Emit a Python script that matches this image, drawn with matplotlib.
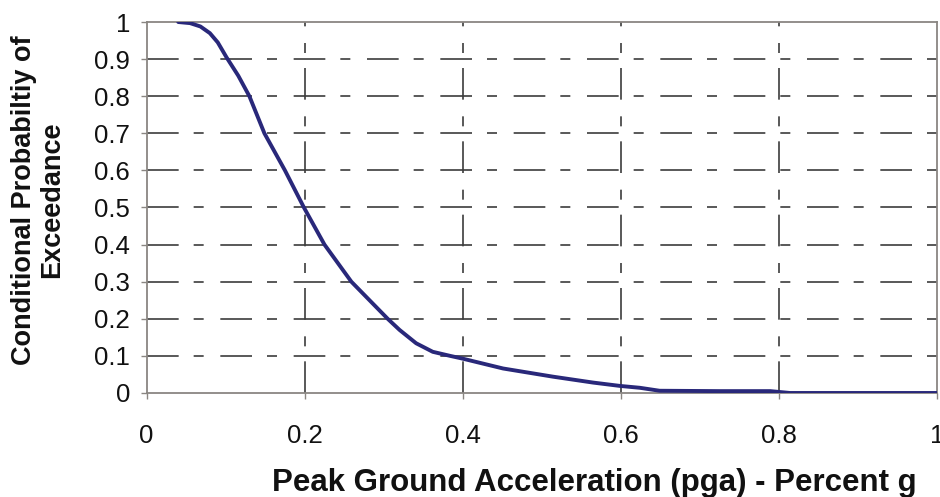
import numpy as np
import matplotlib.pyplot as plt

plt.rcParams['font.family'] = ['Liberation Sans', 'DejaVu Sans']

# curve
pga = [0.04, 0.055, 0.068, 0.08, 0.09, 0.101, 0.116, 0.130, 0.149, 0.175,
       0.199, 0.225, 0.259, 0.305, 0.320, 0.341, 0.362, 0.384, 0.399, 0.451,
       0.514, 0.565, 0.599, 0.624, 0.649, 0.725, 0.789, 0.814, 1.0]
prob = [1.0, 0.997, 0.988, 0.97, 0.945, 0.905, 0.855, 0.80, 0.70, 0.60,
        0.50, 0.40, 0.30, 0.20, 0.17, 0.134, 0.111, 0.10, 0.093, 0.066,
        0.044, 0.028, 0.019, 0.014, 0.006, 0.005, 0.005, 0.0, 0.0]

xticks = [0, 0.2, 0.4, 0.6, 0.8, 1]
yticks = [0, 0.1, 0.2, 0.3, 0.4, 0.5, 0.6, 0.7, 0.8, 0.9, 1]

fig = plt.figure(figsize=(9.4, 4.97), dpi=100)
ax = fig.add_axes([0.156, 0.2093, 0.8408, 0.7464])

ax.plot(pga, prob, color='#29287a', lw=2.8, zorder=3,
        solid_capstyle='round', solid_joinstyle='round')

dash = (0, (19, 9, 6, 10))
for y in yticks[1:-1]:
    ax.axhline(y, color='#3c3c3c', lw=1.2, linestyle=dash, zorder=1)
for x in xticks[1:-1]:
    ax.axvline(x, color='#3c3c3c', lw=1.2, linestyle=dash, zorder=1)

ax.set_xlim(0, 1)
ax.set_ylim(0, 1)
ax.set_xticks(xticks)
ax.set_yticks(yticks)
ax.set_xticklabels(['%g' % v for v in xticks])
ax.set_yticklabels(['%g' % v for v in yticks])

for s in ax.spines.values():
    s.set_color('#8a8682')
    s.set_linewidth(1.3)

ax.tick_params(axis='both', colors='#8a8682', length=4, width=1,
               labelsize=18.5, labelcolor='#111111')
ax.tick_params(axis='x', pad=18)
ax.tick_params(axis='y', pad=8)

ax.set_xlabel('Peak Ground Acceleration (pga) - Percent g', fontsize=22.5,
              fontweight='bold', color='#111111')
ax.xaxis.set_label_coords(0.567, -0.243)
ax.xaxis.label.set_va('center')

ax.set_ylabel('Conditional Probabiltiy of\nExceedance', fontsize=19.5,
              fontweight='bold', color='#111111', linespacing=1.1)
ax.yaxis.set_label_coords(-0.137, 0.52)
ax.yaxis.label.set_va('center')

fig.savefig('out.png', dpi=100)
